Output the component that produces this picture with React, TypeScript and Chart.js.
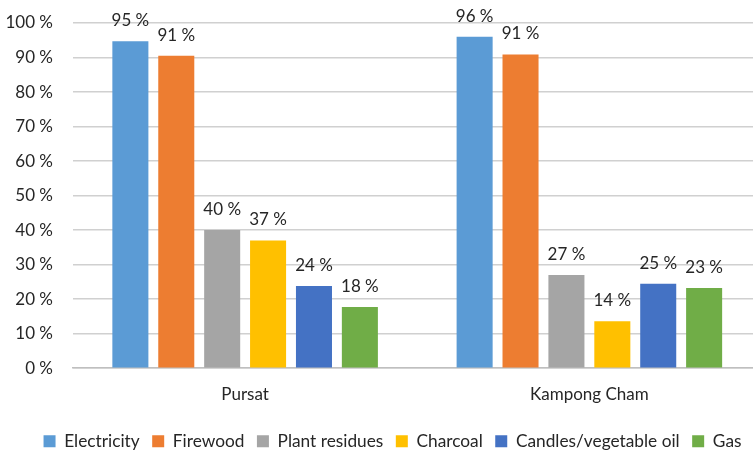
import React, { useEffect, useRef } from "react";
import { Chart, registerables } from "chart.js";

Chart.register(...registerables);

const categories = ["Pursat", "Kampong Cham"];
const seriesNames = ["Electricity", "Firewood", "Plant residues", "Charcoal", "Candles/vegetable oil", "Gas"];
const electricity = [94.7, 96.0];
const firewood = [90.5, 90.9];
const plantResidues = [40.0, 27.0];
const charcoal = [37.0, 13.6];
const candlesOil = [23.8, 24.5];
const gas = [17.7, 23.2];
const seriesColors = ["#5B9BD5", "#ED7D31", "#A5A5A5", "#FFC000", "#4472C4", "#70AD47"];
const yTicks = [0, 10, 20, 30, 40, 50, 60, 70, 80, 90, 100];

const FONT = "Lato";
const FS = 17;
const TEXT = "#262626";

const labelPlugin = {
  id: "barLabels",
  afterDatasetsDraw(chart: any) {
    const ctx = chart.ctx;
    ctx.save();
    ctx.font = `${FS}px ${FONT}`;
    ctx.fillStyle = TEXT;
    ctx.textAlign = "center";
    ctx.textBaseline = "alphabetic";
    chart.data.datasets.forEach((ds: any, i: number) => {
      const meta = chart.getDatasetMeta(i);
      meta.data.forEach((el: any, j: number) => {
        ctx.fillText(Math.round(ds.data[j]) + " %", el.x, el.y - 15);
      });
    });
    ctx.restore();
  },
};

export default function App() {
  const ref = useRef<HTMLCanvasElement>(null);
  useEffect(() => {
    const values = [electricity, firewood, plantResidues, charcoal, candlesOil, gas];
    const chart = new Chart(ref.current!, {
      type: "bar",
      data: {
        labels: categories,
        datasets: seriesNames.map((name, i) => ({
          label: name,
          data: values[i],
          backgroundColor: seriesColors[i],
          borderWidth: 0,
          categoryPercentage: 0.8,
          barPercentage: 0.785,
        })),
      },
      options: {
        responsive: false,
        animation: false,
        devicePixelRatio: 1,
        layout: { padding: { left: 0, right: 0, top: 23, bottom: 0 } },
        plugins: {
          tooltip: { enabled: false },
          legend: {
            position: "bottom",
            labels: {
              boxWidth: 12,
              boxHeight: 12,
              padding: 12.5,
              color: TEXT,
              font: { family: FONT, size: 17.3 },
            },
          },
        },
        scales: {
          x: {
            grid: { display: false, drawTicks: false },
            border: { color: "#BFBFBF", width: 1.5 },
            ticks: { color: TEXT, font: { family: FONT, size: FS }, padding: 16 },
            afterFit: (s: any) => { s.height = 52; },
          },
          y: {
            min: 0,
            max: 100,
            afterBuildTicks: (s: any) => { s.ticks = yTicks.map((v) => ({ value: v })); },
            grid: { color: "#D0D0D0", lineWidth: 1.5, drawTicks: false },
            border: { display: false },
            ticks: {
              color: TEXT,
              font: { family: FONT, size: FS },
              padding: 20,
              callback: (v: any) => v + " %",
            },
            afterFit: (s: any) => { s.width = 73; s.paddingTop = 0; s.paddingBottom = 0; },
          },
          spacer: {
            type: "linear",
            position: "right",
            min: 0,
            max: 1,
            grid: { display: false, drawTicks: false },
            border: { display: false },
            ticks: { display: false },
            afterFit: (s: any) => { s.width = 23.5; s.paddingTop = 0; s.paddingBottom = 0; },
          },
        },
      },
      plugins: [labelPlugin],
    });
    return () => chart.destroy();
  }, []);
  return (
    <div style={{ position: "fixed", left: 0, top: 0, width: 753, height: 450, overflow: "hidden", background: "#fff" }}>
      <canvas ref={ref} width={785} height={460} style={{ display: "block" }} />
    </div>
  );
}
